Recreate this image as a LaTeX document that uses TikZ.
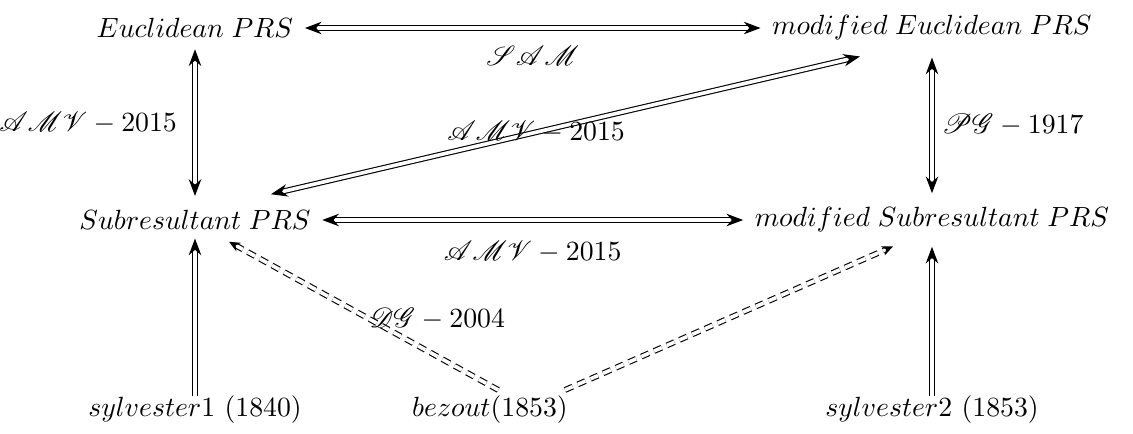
\documentclass[tikz,border=0pt]{standalone}
\usepackage{mathrsfs}
\usetikzlibrary{arrows.meta}
\begin{document}
\begin{tikzpicture}[x=0.36pt,y=-0.36pt,
  lbl/.style={inner sep=2pt},
  dbl/.style={double, double distance=1.3pt, line width=0.4pt},
  both/.style={dbl,{Stealth[length=6pt,width=4.5pt]}-{Stealth[length=6pt,width=4.5pt]}},
  one/.style={dbl,-{Stealth[length=6pt,width=4.5pt]}},
  dsh/.style={dbl,dash pattern=on 3pt off 2pt,-{Stealth[length=4pt,width=3.5pt]}}]
\useasboundingbox (0,0) rectangle (1133,433);
\node[lbl] (euc) at (195,28) {$Euclidean\;PRS$};
\node[lbl] (meuc) at (932,28) {$modified\;Euclidean\;PRS$};
\node[lbl] (sub) at (195,220) {$Subresultant\;PRS$};
\node[lbl] (msub) at (932,220) {$modified\;Subresultant\;PRS$};
\node[lbl] (syl1) at (195,410) {$sylvester1$ (1840)};
\node[lbl] (bez) at (490,410) {$bezout$(1853)};
\node[lbl] (syl2) at (932,410) {$sylvester2$ (1853)};
\draw[both,shorten <=2pt,shorten >=2pt] (euc.east) -- (meuc.west) node[midway,below=3pt] {$\mathscr{SAM}$};
\draw[both] ([yshift=-2pt]euc.south) -- ([yshift=3pt]sub.north) node[midway,left=3pt] {$\mathscr{AMV}-2015$};
\draw[both] ([yshift=-4pt]meuc.south) -- ([yshift=3pt]msub.north) node[midway,right=0pt] {$\mathscr{PG}-1917$};
\draw[both] ([shift={(76,-10)}]sub.north) -- ([shift={(-72,10)}]meuc.south) node[pos=0.45,inner sep=0pt] {$\mathscr{AMV}-2015$};
\draw[both,shorten <=2pt,shorten >=2pt] (sub.east) -- (msub.west) node[midway,below=4pt] {$\mathscr{AMV}-2015$};
\draw[one] ([yshift=-2pt]syl1.north) -- ([yshift=-1pt]sub.south);
\draw[one] ([yshift=-2pt]syl2.north) -- ([yshift=-3pt]msub.south);
\draw[dsh] ([xshift=3]bez.north) -- ([shift={(34,6)}]sub.south) node[pos=0.48,anchor=west,inner sep=0pt] {$\mathscr{DG}-2004$};
\draw[dsh] ([xshift=27]bez.north) -- ([shift={(-39,8)}]msub.south);
\end{tikzpicture}
\end{document}
